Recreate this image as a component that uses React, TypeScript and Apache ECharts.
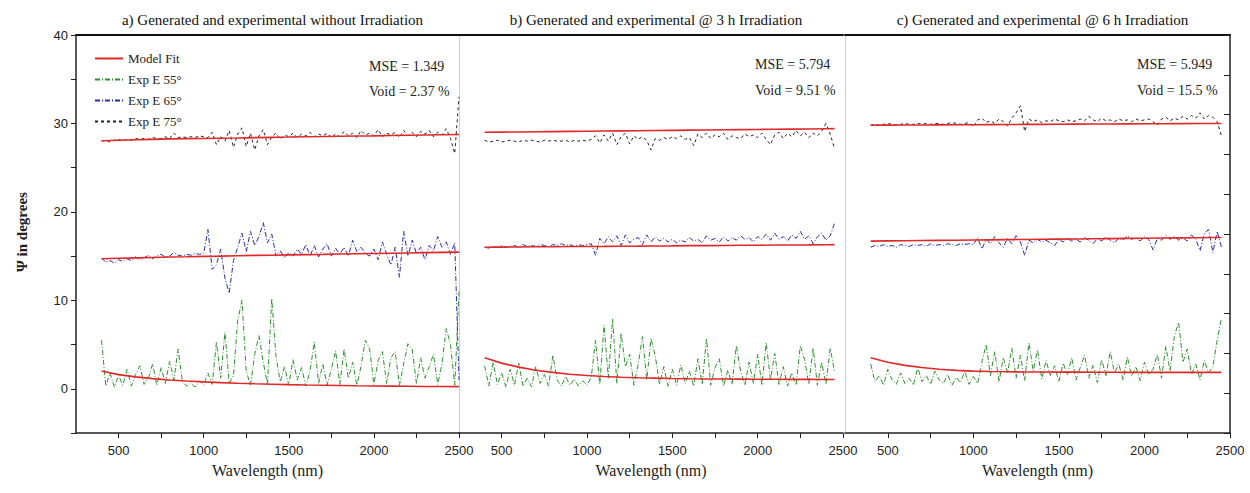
import React, { useEffect, useRef } from "react";
import * as echarts from "echarts";

// ---------- data ----------
// sample wavelengths (nm): experiment sampled every 25 nm from 400 nm
const expStart = 400;
const expStep = 25;
// model-fit sample wavelengths
const fitWlA = [400, 500, 600, 700, 800, 900, 1000, 1100, 1200, 1300, 1400, 1500, 1600, 1700, 1800, 1900, 2000, 2100, 2200, 2300, 2400, 2500];
const fitWlBC = [400, 500, 600, 700, 800, 900, 1000, 1100, 1200, 1300, 1400, 1500, 1600, 1700, 1800, 1900, 2000, 2100, 2200, 2300, 2400, 2450];

const panelTitles = [
  "a) Generated and experimental without Irradiation",
  "b) Generated and experimental @ 3 h Irradiation",
  "c) Generated and experimental @ 6 h Irradiation",
];
const mseLabels = ["MSE = 1.349", "MSE = 5.794", "MSE = 5.949"];
const voidLabels = ["Void = 2.37 %", "Void = 9.51 %", "Void = 15.5 %"];
const legendNames = ["Model Fit", "Exp E 55°", "Exp E 65°", "Exp E 75°"];

// ---- panel a (no irradiation) ----
const expA55 = [5.5, 0.3, 1.8, 0.2, 1.5, 0.4, 2.2, 0.3, 1.6, 2.6, 0.5, 1.2, 2.8, 0.4, 2.4, 0.6, 3.1, 1.0, 4.5, 0.8,
  0.3, 0.6, 0.2, 0.9, 0.4, 1.8, 0.5, 5.3, 1.2, 6.4, 0.6, 1.5, 7.7, 10.0, 2.0, 0.4, 3.9, 6.0, 3.0, 0.5,
  10.2, 3.6, 0.8, 2.5, 0.4, 3.3, 1.0, 2.4, 0.3, 2.0, 5.3, 0.6, 2.8, 0.4, 2.2, 4.3, 0.5, 4.5, 1.2, 3.0,
  0.4, 2.6, 5.5, 4.5, 0.5, 3.2, 4.2, 0.6, 3.5, 4.2, 0.4, 2.8, 5.1, 4.5, 0.6, 3.5, 1.2, 2.5, 3.9, 0.5,
  2.8, 6.8, 5.0, 0.4, 11.0];
const expA65 = [14.8, 14.3, 14.5, 14.2, 14.6, 14.4, 14.7, 14.5, 14.9, 14.6, 14.8, 15.1, 14.7, 15.0, 15.2, 14.9, 15.0, 15.4, 15.1, 15.0,
  15.2, 15.1, 15.3, 15.2, 15.3, 18.0, 13.5, 14.0, 15.8, 12.5, 10.8, 14.5, 16.0, 17.6, 15.5, 17.8, 16.2, 17.2, 18.8, 16.5,
  17.5, 15.0, 15.6, 14.8, 15.4, 15.0, 15.8, 15.2, 16.3, 15.0, 16.2, 14.9, 15.8, 16.4, 15.0, 15.9, 15.2, 16.0, 15.0, 16.8,
  15.5, 16.0, 15.3, 15.0, 15.8, 14.6, 16.6, 15.2, 14.0, 16.0, 12.6, 17.8, 15.0, 16.8, 15.3, 16.0, 14.6, 16.2, 15.6, 17.2,
  16.0, 16.6, 15.2, 16.5, 1.0];
const expA75 = [28.0, 28.1, 27.9, 28.1, 28.2, 28.0, 28.2, 28.1, 28.3, 28.2, 28.3, 28.2, 28.4, 28.3, 28.3, 28.5, 28.3, 28.9, 28.4, 28.5,
  28.4, 28.5, 28.4, 28.6, 28.5, 28.4, 29.0, 27.6, 28.5, 28.0, 29.2, 27.3, 28.8, 29.5, 27.4, 28.9, 27.0, 28.6, 29.3, 27.6,
  28.5, 28.9, 28.2, 28.7, 28.5, 28.9, 28.4, 28.8, 28.6, 29.0, 28.5, 28.8, 28.6, 28.9, 28.4, 28.8, 28.5, 29.1, 28.6, 28.9,
  28.4, 29.2, 28.7, 28.9, 28.6, 29.3, 28.5, 28.9, 28.7, 29.0, 28.4, 29.2, 28.6, 29.0, 28.5, 29.1, 28.8, 29.2, 28.5, 29.0,
  28.7, 29.4, 28.3, 26.6, 33.0];
const fitA55 = [2.0, 1.6, 1.35, 1.15, 1.0, 0.88, 0.78, 0.7, 0.63, 0.57, 0.52, 0.47, 0.43, 0.4, 0.37, 0.34, 0.32, 0.3, 0.28, 0.26, 0.25, 0.24];
const fitA65 = [14.7, 14.75, 14.8, 14.85, 14.9, 14.93, 14.97, 15.0, 15.04, 15.08, 15.1, 15.14, 15.17, 15.2, 15.24, 15.27, 15.3, 15.33, 15.36, 15.39, 15.42, 15.45];
const fitA75 = [28.05, 28.1, 28.15, 28.2, 28.25, 28.28, 28.3, 28.33, 28.36, 28.4, 28.43, 28.46, 28.5, 28.52, 28.55, 28.58, 28.6, 28.63, 28.66, 28.69, 28.72, 28.75];

// ---- panel b (3 h irradiation) ----
const expB55 = [2.6, 0.3, 3.0, 0.5, 1.8, 0.2, 2.2, 0.4, 2.9, 0.3, 1.2, 0.2, 2.5, 0.6, 1.6, 0.3, 3.8, 1.0, 0.3, 1.4,
  0.4, 1.1, 0.3, 0.9, 0.4, 1.3, 5.5, 0.5, 7.2, 1.2, 7.9, 0.6, 6.3, 2.5, 3.9, 0.4, 2.8, 5.9, 1.0, 5.7,
  3.7, 0.5, 2.5, 0.3, 2.2, 0.4, 2.7, 0.6, 2.0, 0.3, 3.4, 0.5, 5.7, 0.4, 2.4, 3.4, 0.3, 2.1, 0.5, 4.9,
  2.0, 0.4, 3.0, 0.6, 3.9, 0.4, 5.2, 1.0, 4.0, 0.5, 2.5, 0.3, 1.8, 0.4, 4.9, 3.3, 0.5, 4.6, 0.4, 3.0,
  0.5, 4.6, 2.0];
const expB65 = [16.0, 15.9, 16.1, 16.0, 16.2, 16.0, 16.1, 16.2, 16.0, 16.3, 16.1, 16.2, 16.1, 16.3, 16.2, 16.1, 16.3, 16.2, 16.4, 16.2,
  16.3, 16.1, 16.3, 16.2, 16.3, 16.4, 15.1, 17.0, 16.4, 17.2, 16.6, 17.3, 16.2, 17.4, 16.5, 16.9, 17.1, 16.3, 17.4, 16.6,
  17.2, 16.7, 17.0, 16.6, 16.9, 16.5, 16.8, 16.6, 17.1, 16.7, 16.9, 16.5, 17.3, 16.8, 17.0, 16.6, 17.2, 16.7, 17.1, 16.8,
  17.3, 16.9, 17.1, 16.6, 17.2, 16.9, 17.5, 16.8, 17.6, 16.9, 17.2, 16.7, 17.4, 17.0, 17.8, 16.9, 17.3, 16.4, 17.2, 17.6,
  16.8, 17.3, 18.7];
const expB75 = [28.1, 27.9, 28.0, 28.1, 27.9, 28.0, 28.1, 28.0, 27.9, 28.1, 28.0, 28.1, 28.0, 27.9, 28.1, 28.0, 28.1, 28.0, 28.0, 28.1,
  27.9, 28.1, 28.0, 28.1, 28.0, 28.2, 28.6, 27.8, 28.7, 28.0, 28.9, 27.6, 28.5, 28.9, 27.7, 28.6, 28.2, 28.5, 28.1, 27.0,
  28.3, 28.1, 28.4, 28.2, 28.5, 28.3, 28.6, 28.2, 28.4, 27.5, 28.8, 28.4, 28.9, 28.3, 28.7, 28.5, 28.9, 28.2, 28.6, 28.4,
  28.3, 28.8, 28.5, 28.7, 28.4, 28.9, 28.2, 27.6, 28.7, 29.0, 28.3, 28.9, 28.5, 29.2, 28.6, 29.0, 28.4, 28.9, 28.6, 29.1,
  30.0, 28.8, 27.2];
const fitB55 = [3.5, 2.9, 2.45, 2.1, 1.85, 1.65, 1.5, 1.38, 1.3, 1.24, 1.2, 1.16, 1.13, 1.11, 1.1, 1.09, 1.08, 1.07, 1.06, 1.06, 1.05, 1.05];
const fitB65 = [16.0, 16.02, 16.03, 16.05, 16.06, 16.08, 16.09, 16.1, 16.12, 16.13, 16.15, 16.16, 16.18, 16.19, 16.2, 16.22, 16.23, 16.25, 16.26, 16.27, 16.29, 16.3];
const fitB75 = [29.0, 29.02, 29.04, 29.06, 29.08, 29.1, 29.12, 29.14, 29.16, 29.18, 29.2, 29.22, 29.24, 29.26, 29.28, 29.3, 29.32, 29.34, 29.36, 29.38, 29.4, 29.41];

// ---- panel c (6 h irradiation) ----
const expC55 = [2.8, 0.8, 1.5, 0.4, 2.2, 1.0, 0.5, 1.8, 0.6, 1.2, 0.4, 2.4, 0.8, 1.5, 0.5, 2.0, 1.0, 0.6, 1.6, 0.4,
  1.3, 0.7, 2.0, 0.5, 1.4, 0.6, 3.0, 5.0, 1.5, 4.2, 0.8, 3.5, 1.8, 4.6, 1.2, 3.8, 0.9, 5.2, 2.0, 4.4,
  1.1, 3.2, 1.5, 2.6, 0.8, 2.9, 1.6, 3.5, 1.0, 2.4, 3.8, 1.2, 2.7, 0.7, 3.3, 1.5, 4.2, 1.8, 2.8, 1.0,
  3.6, 1.4, 2.5, 0.9, 3.0, 1.6, 2.2, 3.9, 1.2, 4.8, 2.0, 6.0, 7.5, 3.0, 4.5, 1.6, 2.8, 1.0, 3.2, 1.8,
  2.5, 5.5, 8.0];
const expC65 = [16.0, 16.2, 16.1, 16.3, 16.1, 16.2, 16.0, 16.3, 16.2, 16.1, 16.3, 16.2, 16.3, 16.1, 16.4, 16.2, 16.3, 16.2, 16.4, 16.3,
  16.2, 16.4, 16.3, 16.4, 16.3, 17.1, 15.8, 16.9, 16.4, 17.2, 16.5, 16.0, 17.0, 16.4, 17.3, 16.6, 15.1, 16.8, 16.5, 16.9,
  16.6, 16.8, 16.5, 16.2, 16.9, 16.6, 17.0, 16.7, 16.9, 16.6, 17.1, 16.8, 16.4, 17.0, 16.7, 17.2, 16.8, 16.5, 17.0, 16.8,
  17.3, 16.9, 17.1, 16.7, 17.2, 16.9, 15.7, 17.0, 16.8, 17.3, 16.9, 17.2, 16.8, 17.1, 16.7, 17.4, 16.9, 15.6, 17.6, 18.0,
  15.4, 17.8, 16.0];
const expC75 = [29.8, 29.9, 29.8, 29.9, 30.0, 29.9, 29.8, 29.9, 30.0, 29.9, 29.9, 30.0, 29.9, 30.0, 29.9, 30.0, 30.0, 29.9, 30.0, 30.1,
  30.0, 29.9, 30.0, 30.1, 29.6, 30.4, 30.6, 30.1, 30.3, 30.0, 30.5, 30.2, 29.7, 30.6, 31.2, 32.0, 29.1, 30.5, 30.2, 30.4,
  30.1, 30.3, 30.2, 30.5, 30.3, 30.2, 30.4, 30.2, 30.3, 30.5, 30.3, 30.8, 30.4, 30.2, 30.6, 30.3, 30.4, 30.2, 30.5, 30.3,
  30.4, 30.2, 30.5, 30.3, 30.4, 30.5, 30.2, 29.8, 30.5, 30.7, 30.3, 30.6, 30.4, 30.8, 30.5, 30.9, 30.6, 31.2, 30.5, 30.9,
  30.7, 30.2, 28.6];
const fitC55 = [3.5, 3.0, 2.65, 2.4, 2.2, 2.08, 2.0, 1.95, 1.92, 1.9, 1.89, 1.88, 1.88, 1.87, 1.87, 1.86, 1.86, 1.86, 1.85, 1.85, 1.85, 1.85];
const fitC65 = [16.7, 16.72, 16.74, 16.76, 16.78, 16.8, 16.82, 16.84, 16.86, 16.88, 16.9, 16.92, 16.94, 16.96, 16.98, 17.0, 17.02, 17.04, 17.06, 17.08, 17.1, 17.1];
const fitC75 = [29.8, 29.81, 29.82, 29.83, 29.84, 29.85, 29.86, 29.87, 29.88, 29.89, 29.9, 29.91, 29.92, 29.93, 29.94, 29.95, 29.96, 29.97, 29.98, 29.99, 30.0, 30.0];

// ---------- styling ----------
const RED = "#e02828";
const GREEN = "#2f8f2f";
const BLUE = "#2a2aa8";
const BLACK = "#222222";
const DASHDOT = [5, 2, 1, 2];
const DASHED = [3, 3];
const SERIF = "Liberation Serif, serif";
const SANS = "Liberation Sans, sans-serif";

const gridBoxes = [
  { left: 76, width: 383 },
  { left: 459, width: 384 },
  { left: 845, width: 385 },
];

const toPairsStep = (ys: number[]) => ys.map((y, i) => [expStart + i * expStep, y]);
const toPairsX = (xs: number[], ys: number[]) => ys.map((y, i) => [xs[i], y]);

function lineSeries(name: string, data: number[][], panel: number, color: string, type: any, width: number, z: number) {
  return {
    type: "line",
    name,
    xAxisIndex: panel,
    yAxisIndex: panel,
    data,
    showSymbol: false,
    symbol: "none",
    silent: true,
    z,
    lineStyle: { color, width, type },
    itemStyle: { color },
  };
}

export default function App() {
  const ref = useRef<HTMLDivElement>(null);

  useEffect(() => {
    document.body.style.margin = "0";
    if (!ref.current) return;
    const chart = echarts.init(ref.current, undefined, { renderer: "svg" });

    const panels = [
      { e55: expA55, e65: expA65, e75: expA75, f55: fitA55, f65: fitA65, f75: fitA75, fx: fitWlA },
      { e55: expB55, e65: expB65, e75: expB75, f55: fitB55, f65: fitB65, f75: fitB75, fx: fitWlBC },
      { e55: expC55, e65: expC65, e75: expC75, f55: fitC55, f65: fitC65, f75: fitC75, fx: fitWlBC },
    ];

    const series: any[] = [];
    panels.forEach((p, k) => {
      series.push(lineSeries(legendNames[1], toPairsStep(p.e55), k, GREEN, DASHDOT, 1, 2));
      series.push(lineSeries(legendNames[2], toPairsStep(p.e65), k, BLUE, DASHDOT, 1, 2));
      series.push(lineSeries(legendNames[3], toPairsStep(p.e75), k, BLACK, DASHED, 1, 2));
      series.push(lineSeries(legendNames[0], toPairsX(p.fx, p.f55), k, RED, "solid", 1.6, 3));
      series.push(lineSeries(legendNames[0], toPairsX(p.fx, p.f65), k, RED, "solid", 1.6, 3));
      series.push(lineSeries(legendNames[0], toPairsX(p.fx, p.f75), k, RED, "solid", 1.6, 3));
    });

    const grids = gridBoxes.map((g) => ({ left: g.left, width: g.width, top: 35, height: 398, containLabel: false }));

    const bottomX = gridBoxes.map((_, k) => ({
      type: "value",
      gridIndex: k,
      position: "bottom",
      min: 250,
      max: 2500,
      interval: 250,
      axisLine: { show: true, onZero: false, lineStyle: { color: BLACK, width: 1.5 } },
      axisTick: { show: true, inside: false, length: 5, lineStyle: { color: BLACK, width: 1 } },
      axisLabel: {
        show: true,
        showMinLabel: false,
        formatter: (v: number) => (v % 500 === 0 ? String(v) : ""),
        color: BLACK,
        fontFamily: SANS,
        fontSize: 13,
        margin: 11,
      },
      splitLine: { show: false },
      name: "Wavelength (nm)",
      nameLocation: "middle",
      nameGap: 29,
      nameTextStyle: { fontFamily: SERIF, fontSize: 16, color: BLACK },
    }));
    const topX = gridBoxes.map((_, k) => ({
      type: "value",
      gridIndex: k,
      position: "top",
      min: 250,
      max: 2500,
      axisLine: { show: true, onZero: false, lineStyle: { color: "#111", width: 2 } },
      axisTick: { show: false },
      axisLabel: { show: false },
      splitLine: { show: false },
    }));

    const yAxes: any[] = [
      {
        type: "value",
        gridIndex: 0,
        min: -5,
        max: 40,
        interval: 5,
        axisLine: { show: true, onZero: false, lineStyle: { color: BLACK, width: 1.5 } },
        axisTick: { show: true, inside: false, length: 5, lineStyle: { color: BLACK } },
        axisLabel: {
          formatter: (v: number) => (v % 10 === 0 ? String(v) : ""),
          color: BLACK,
          fontFamily: SANS,
          fontSize: 13,
          margin: 8,
        },
        splitLine: { show: false },
      },
      {
        type: "value",
        gridIndex: 1,
        min: -5,
        max: 40,
        interval: 5,
        axisLine: { show: true, onZero: false, lineStyle: { color: "#c4c4c4", width: 1, type: "dotted" } },
        axisTick: { show: false },
        axisLabel: { show: false },
        splitLine: { show: false },
      },
      {
        type: "value",
        gridIndex: 2,
        min: -5,
        max: 40,
        interval: 5,
        axisLine: { show: true, onZero: false, lineStyle: { color: "#c4c4c4", width: 1, type: "dotted" } },
        axisTick: { show: false },
        axisLabel: { show: false },
        splitLine: { show: false },
      },
      {
        type: "value",
        gridIndex: 2,
        position: "right",
        min: -1,
        max: 9,
        interval: 1,
        axisLine: { show: true, onZero: false, lineStyle: { color: BLACK, width: 1.5 } },
        axisTick: { show: true, inside: true, length: 6, lineStyle: { color: BLACK } },
        axisLabel: { show: false },
        splitLine: { show: false },
      },
    ];

    const centers = gridBoxes.map((g) => g.left + g.width / 2);
    const textPos = [
      { x: 369, y1: 66, y2: 91 },
      { x: 755, y1: 64, y2: 90 },
      { x: 1137, y1: 64, y2: 90 },
    ];

    const graphic: any[] = [
      {
        type: "text",
        x: 22,
        y: 232,
        rotation: Math.PI / 2,
        style: { text: "Ψ in degrees", font: `bold 15px ${SERIF}`, fill: BLACK, textAlign: "center", textVerticalAlign: "middle" },
      },
    ];
    textPos.forEach((t, k) => {
      graphic.push({ type: "text", x: t.x, y: t.y1, style: { text: mseLabels[k], font: `14px ${SERIF}`, fill: BLACK, textVerticalAlign: "middle" } });
      graphic.push({ type: "text", x: t.x, y: t.y2, style: { text: voidLabels[k], font: `14px ${SERIF}`, fill: BLACK, textVerticalAlign: "middle" } });
    });

    chart.setOption({
      animation: false,
      backgroundColor: "#ffffff",
      title: panelTitles.map((t, k) => ({
        text: t,
        left: centers[k],
        top: 7,
        textAlign: "center",
        textStyle: { fontFamily: SERIF, fontSize: 15, fontWeight: "normal", color: "#111" },
      })),
      legend: {
        data: legendNames,
        orient: "vertical",
        left: 89,
        top: 47,
        itemWidth: 28,
        itemHeight: 14,
        itemGap: 8,
        itemStyle: { opacity: 0 },
        textStyle: { fontFamily: SERIF, fontSize: 13, color: BLACK },
        selectedMode: false,
      },
      grid: grids,
      xAxis: [...bottomX, ...topX],
      yAxis: yAxes,
      graphic,
      series,
    });

    return () => chart.dispose();
  }, []);

  return <div ref={ref} style={{ position: "absolute", left: 0, top: 0, width: 1250, height: 493 }} />;
}
